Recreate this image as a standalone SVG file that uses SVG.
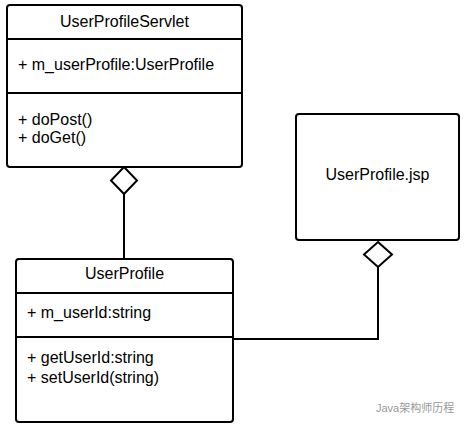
<svg xmlns="http://www.w3.org/2000/svg" width="468" height="429" viewBox="0 0 468 429">
<style>
.box{fill:#fff;stroke:#000;stroke-width:2}
.div{stroke:#000;stroke-width:2}
.t{font-family:"Liberation Sans",Arial,sans-serif;font-size:16px;fill:#000}
.c{text-anchor:middle}
.conn{fill:none;stroke:#000;stroke-width:2}
.dia{fill:#fff;stroke:#000;stroke-width:2}
.wm{font-family:"Liberation Sans","Noto Sans CJK SC",sans-serif;font-size:11px;fill:#999}
</style>
<rect width="468" height="429" fill="#fff"/>
<g id="connectors">
<path class="conn" d="M124,194 V259"/>
<path class="dia" d="M124,167 L137,180.5 L124,194 L111,180.5 Z"/>
<path class="conn" d="M233,339 H378 V267"/>
<path class="dia" d="M378,242 L392,254.5 L378,267 L364,254.5 Z"/>
</g>
<g id="UserProfileServlet">
<rect class="box" x="7" y="5" width="235" height="162" rx="3"/>
<line class="div" x1="7" y1="39" x2="242" y2="39"/>
<line class="div" x1="7" y1="93" x2="242" y2="93"/>
<text class="t c" x="124.5" y="27">UserProfileServlet</text>
<text class="t" x="18" y="70">+ m_userProfile:UserProfile</text>
<text class="t" x="18" y="125">+ doPost()</text>
<text class="t" x="18" y="143">+ doGet()</text>
</g>
<g id="UserProfileJsp">
<rect class="box" x="296" y="114" width="163" height="126" rx="3"/>
<text class="t c" x="377.5" y="180">UserProfile.jsp</text>
</g>
<g id="UserProfile">
<rect class="box" x="16" y="259" width="217" height="163" rx="3"/>
<line class="div" x1="16" y1="293" x2="233" y2="293"/>
<line class="div" x1="16" y1="337" x2="233" y2="337"/>
<text class="t c" x="124.5" y="279">UserProfile</text>
<text class="t" x="27" y="318">+ m_userId:string</text>
<text class="t" x="27" y="363">+ getUserId:string</text>
<text class="t" x="27" y="383">+ setUserId(string)</text>
</g>
<g id="watermark">
<text class="wm" x="376" y="412">Java架构师历程</text>
</g>
</svg>
